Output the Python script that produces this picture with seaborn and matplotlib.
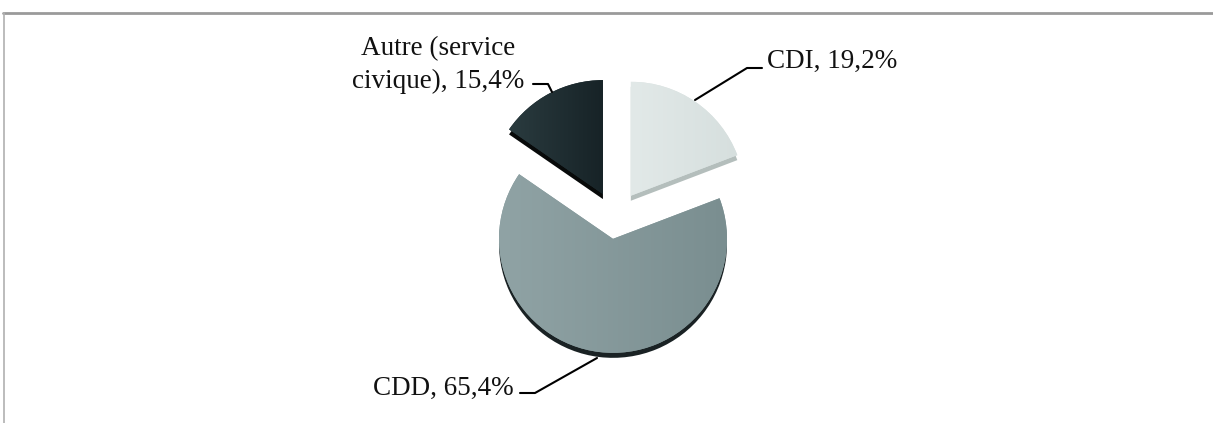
import numpy as np
import matplotlib
matplotlib.use("Agg")
import matplotlib.pyplot as plt
from matplotlib.lines import Line2D
import seaborn as sns

# ---- data ----
categories = ["CDI", "CDD", "Autre (service\ncivique)"]
values = [19.2, 65.4, 15.4]
value_labels = ["19,2%", "65,4%", "15,4%"]

# ---- style ----
sns.set_theme(style="white")
plt.rcParams["font.family"] = ["Liberation Serif", "DejaVu Serif"]

top_colors = ["#dbe3e2", "#869a9c", "#1f2d31"]
side_colors = ["#b4bebc", "#1a2224", "#080a0a"]
grad_left = ["#e2e9e8", "#90a3a5", "#2a3b3f"]
grad_right = ["#d6dfde", "#7a8e90", "#172327"]

W, H = 1213, 423
cx, cy, r = 615.5, H - 218, 114
explode = [27, 21, 27]  # offsets in data units (pixels here)

fig = plt.figure(figsize=(W / 100, H / 100), dpi=100)
ax = fig.add_axes([0, 0, 1, 1])
ax.set_xlim(0, W)
ax.set_ylim(0, H)
ax.set_aspect("equal")
ax.axis("off")

# depth (3D side) layer
ax.pie(values, colors=side_colors, startangle=90, counterclock=False,
       explode=explode, radius=r, center=(cx, cy - 5), frame=True,
       wedgeprops=dict(linewidth=0))
# top layer
wedges, _ = ax.pie(values, colors=top_colors, startangle=90, counterclock=False,
                   explode=explode, radius=r, center=(cx, cy), frame=True,
                   wedgeprops=dict(linewidth=0))

# horizontal gradient on each top wedge
for w, cl, cr in zip(wedges, grad_left, grad_right):
    c1 = np.array(matplotlib.colors.to_rgb(cl))
    c2 = np.array(matplotlib.colors.to_rgb(cr))
    t = np.linspace(0, 1, 256)[None, :, None]
    img = c1 + (c2 - c1) * t
    img = np.repeat(img, 2, axis=0)
    ext = w.get_path().get_extents(w.get_transform() + ax.transData.inverted())
    im = ax.imshow(img, extent=[ext.x0, ext.x1, ext.y0, ext.y1], aspect="auto",
                   zorder=w.get_zorder() + 0.1, interpolation="bilinear")
    im.set_clip_path(w)

ax.set_xlim(0, W)
ax.set_ylim(0, H)

fs = 19.5
# labels with leader lines
ax.text(767, H - 61, f"{categories[0]}, {value_labels[0]}", ha="left", va="center",
        fontsize=fs, color="#111111")
ax.plot([762, 747, 695], [H - 68, H - 68, H - 100], color="black", lw=1.5, zorder=5)

ax.text(514, H - 388, f"{categories[1]}, {value_labels[1]}", ha="right", va="center",
        fontsize=fs, color="#111111")
ax.plot([520, 535, 597], [H - 393, H - 393, H - 358], color="black", lw=1.5, zorder=5)

ax.text(438, H - 65, f"{categories[2]}, {value_labels[2]}", ha="center", va="center",
        multialignment="center", fontsize=fs, color="#111111", linespacing=1.45)
ax.plot([533, 548, 552], [H - 84, H - 84, H - 92], color="black", lw=1.5, zorder=5)

# frame lines (top and left)
fig.add_artist(Line2D([3 / W, 1], [1 - 13 / H, 1 - 13 / H], transform=fig.transFigure,
                      color="#9a9a9a", lw=2))
fig.add_artist(Line2D([4 / W, 4 / W], [0, 1 - 13 / H], transform=fig.transFigure,
                      color="#b0b0b0", lw=1.2))

fig.savefig("out.png", dpi=100, facecolor="white")
